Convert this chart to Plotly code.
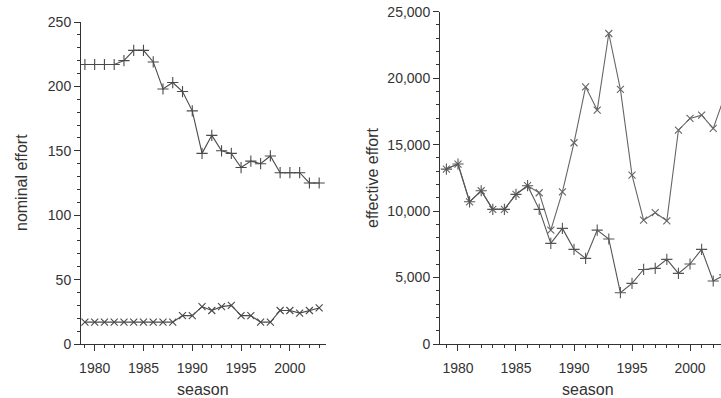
import plotly.graph_objects as go

years = list(range(1979, 2004))

nominal_high = [217, 217, 217, 217, 220, 228, 228, 219, 198, 203, 196, 181, 148,
                162, 150, 148, 137, 142, 140, 146, 133, 133, 133, 125, 125]
nominal_low = [17, 17, 17, 17, 17, 17, 17, 17, 17, 17, 22, 22, 29,
               26, 29, 30, 22, 22, 17, 17, 26, 26, 24, 26, 28]

effective_high = [13160, 13540, 10700, 11530, 10130, 10130, 11260, 11910, 11380,
                  8570, 11450, 15140, 19350, 17600, 23360, 19150, 12710, 9320,
                  9880, 9270, 16090, 16970, 17220, 16220, 18700]
effective_low = [13160, 13540, 10700, 11530, 10130, 10130, 11260, 11910, 10130,
                 7570, 8700, 7120, 6440, 8570, 7900, 3860, 4560, 5610, 5690,
                 6370, 5310, 6020, 7120, 4740, 5200]

W, H = 721, 398
LINE = "#4a4a4a"
TXT = "#333333"
FONT = "Liberation Sans, Arial, sans-serif"


def series(y, sym, xa, ya, col=LINE, size=8):
    return go.Scatter(
        x=years, y=y, mode="lines+markers", xaxis=xa, yaxis=ya,
        line=dict(color=col, width=1.1),
        marker=dict(symbol=sym, size=size, color=col, line=dict(width=1.1, color=col)),
        showlegend=False, hoverinfo="x+y",
    )


fig = go.Figure()
fig.add_trace(series(nominal_high, "cross-thin", "x", "y"))
fig.add_trace(series(nominal_low, "x-thin", "x", "y", size=7))
fig.add_trace(series(effective_high, "x-thin", "x2", "y2", "#666666", size=7))
fig.add_trace(series(effective_low, "cross-thin", "x2", "y2", "#555555"))

common = dict(
    showline=True, linecolor=TXT, linewidth=1, ticks="outside", ticklen=6,
    tickcolor=TXT, tickwidth=1, showgrid=False, zeroline=False,
    tickfont=dict(size=14, color=TXT, family=FONT), automargin=False,
)
xcommon = dict(common, tick0=1980, dtick=5,
               minor=dict(dtick=1, ticks="outside", ticklen=3, tickcolor=TXT, showgrid=False),
               ticklabelstandoff=5)

plot_h = 344
fig.update_layout(
    width=W, height=H,
    margin=dict(l=0, r=0, t=0, b=H - plot_h),
    paper_bgcolor="white", plot_bgcolor="white",
    font=dict(family=FONT, color=TXT),
    xaxis=dict(xcommon, domain=[81 / W, 326 / W], range=[1978.6, 2003.7], anchor="y"),
    yaxis=dict(common, domain=[0, (plot_h - 22) / plot_h], range=[0, 250], dtick=50,
               minor=dict(dtick=10, ticks="outside", ticklen=3, tickcolor=TXT, showgrid=False),
               anchor="x"),
    xaxis2=dict(xcommon, domain=[440 / W, 1], range=[1978.45, 2002.67], anchor="y2"),
    yaxis2=dict(common, domain=[0, (plot_h - 11.7) / plot_h], range=[0, 25000], dtick=5000,
                tickformat=",",
                minor=dict(dtick=1000, ticks="outside", ticklen=3, tickcolor=TXT, showgrid=False),
                anchor="x2"),
)


def ann(text, px, py, angle=0):
    fig.add_annotation(
        text=text, xref="paper", yref="paper",
        x=px / W, y=(plot_h - py) / plot_h,
        xanchor="center", yanchor="middle", showarrow=False, textangle=angle,
        font=dict(size=16, color=TXT, family=FONT),
    )


ann("nominal effort", 21, 183, -90)
ann("effective effort", 372, 178, -90)
ann("season", 203, 389)
ann("season", 588, 389)

fig.write_html("out.html", config={"displayModeBar": False},
               post_script="document.body.style.margin='0';")
